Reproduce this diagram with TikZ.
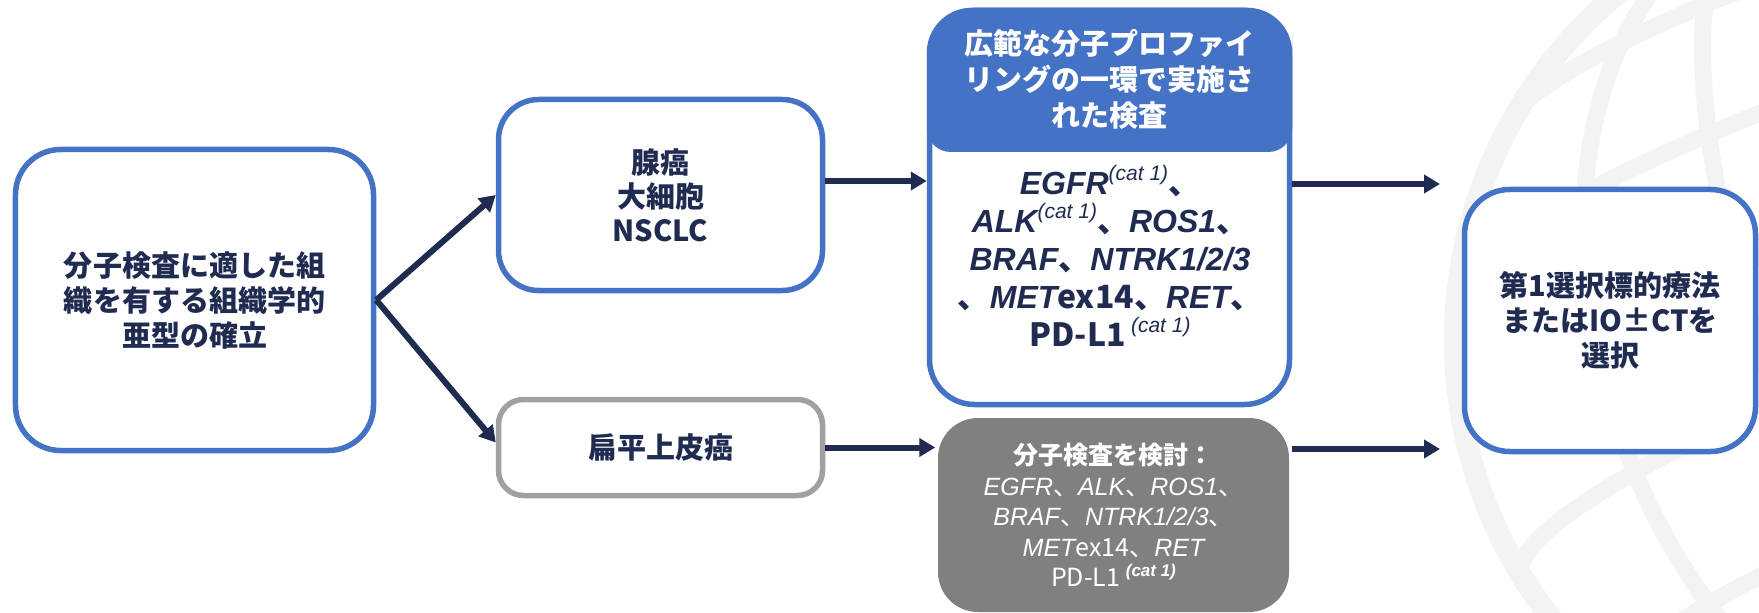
\documentclass[tikz,border=0pt]{standalone}
\usepackage{fontspec}
\setmainfont{Noto Sans CJK JP}[AutoFakeSlant=0.2]
\newfontfamily\latf{Liberation Sans}
\usetikzlibrary{arrows.meta,calc}
\definecolor{navy}{HTML}{1F2B50}
\definecolor{obl}{HTML}{4472C4}
\definecolor{gbord}{HTML}{A0A0A0}
\definecolor{gfill}{HTML}{808080}
\definecolor{globec}{HTML}{F3F3F3}
\newcommand{\gene}[1]{{\latf\itshape #1}}
\newcommand{\catone}[1][14bp]{\raisebox{#1}{\latf\fontsize{21bp}{21bp}\selectfont\mdseries\itshape (cat 1)}}
\tikzset{
  box/.style={draw=obl, line width=5.5bp, rounded corners=45bp, fill=white, align=center,
    text=navy, font=\fontsize{29bp}{35bp}\selectfont\bfseries, inner sep=0pt},
  plain/.style={align=center, inner sep=0pt},
  arr/.style={draw=navy, line width=6bp, -{Triangle[length=16bp,width=18bp]}},
  globeline/.style={draw=globec, line width=17bp},
}
\begin{document}
\begin{tikzpicture}[x=1bp,y=-1bp]
\useasboundingbox (0,0) rectangle (1759,613);
% globe watermark
\begin{scope}
\clip (0,0) rectangle (1759,613);
\begin{scope}[shift={(1905,340)}, rotate=20]
  \draw[globeline, line width=22bp] (0,0) circle (450);
  \clip (0,0) circle (450);
  \draw[globeline] (0,0) ellipse (140 and 450);
  \draw[globeline] (0,0) ellipse (300 and 450);
  \foreach \h in {-330,-190,-50,90,230,360}{
    \pgfmathsetmacro{\w}{450*sqrt(1-(\h/450)^2)}
    \draw[globeline] (-\w,\h) arc[start angle=180, end angle=360, x radius=\w, y radius=0.18*\w];
  }
\end{scope}
\end{scope}

% boxes
\node[box, minimum width=358bp, minimum height=301bp] (est) at (194.5,300)
  {分子検査に適した組\\織を有する組織学的\\亜型の確立};
\node[box, rounded corners=40bp, minimum width=324bp, minimum height=191bp,
  font=\fontsize{29bp}{34bp}\selectfont\bfseries] (adc) at (660.5,195)
  {腺癌\\大細胞\\NSCLC};
\node[box, draw=gbord, rounded corners=25bp, minimum width=324bp, minimum height=96bp] (sq) at (660.5,447.5)
  {扁平上皮癌};

\node[box, minimum width=360bp, minimum height=394bp] (prof) at (1109.5,207.5) {};
\coordinate (hb) at (1109.5,152);
\fill[obl] [rounded corners=45bp] ([yshift=-70bp]prof.north west) |- (prof.north east)
  -- ([yshift=-70bp]prof.north east) [rounded corners=24bp] -- (prof.east |- hb)
  -- (prof.west |- hb) -- cycle;
\node[plain, text=white, font=\fontsize{29bp}{36bp}\selectfont\bfseries] (profhead) at (1109.5,79)
  {広範な分子プロファイ\\リングの一環で実施さ\\れた検査};
\node[plain, text=navy, font=\fontsize{32bp}{38bp}\selectfont\bfseries] (profbody) at (1110,256)
  {\gene{EGFR}\catone、\\
   \gene{ALK}\catone、\gene{ROS1}、\\
   \gene{BRAF}、\gene{NTRK1/2/3}\\
   、\gene{MET}ex14、\gene{RET}、\\
   PD-L1\,\catone};

\node[box, draw=none, fill=gfill, rounded corners=40bp, minimum width=351bp, minimum height=194bp,
  text=white, font=\fontsize{25bp}{30.5bp}\selectfont\mdseries] (gray) at (1113.5,515)
  {\textbf{分子検査を検討：}\\
   \gene{EGFR}、\gene{ALK}、\gene{ROS1}、\\
   \gene{BRAF}、\gene{NTRK1/2/3}、\\
   \gene{MET}ex14、\gene{RET}\\
   PD-L1 \raisebox{10bp}{\latf\fontsize{17bp}{17bp}\selectfont\bfseries\itshape (cat 1)}};

\node[box, minimum width=291bp, minimum height=262bp] (sel) at (1610,320.5)
  {第1選択標的療法\\または{IO}±{CT}を\\選択};

% free ends
\coordinate (t1) at (1440,184);
\coordinate (t2) at (1440,449);

% connectors
\draw[arr] (est.east) -- (adc.west);
\draw[arr] (est.east) -- ([yshift=5bp]sq.west);
\draw[arr] ([yshift=14bp]adc.east) -- ([yshift=14bp]adc.east -| prof.west);
\draw[arr] (sq.east) -- (sq.east -| gray.west);
\draw[arr] (prof.east |- t1) -- (t1);
\draw[arr] (gray.east |- t2) -- (t2);
\end{tikzpicture}
\end{document}
